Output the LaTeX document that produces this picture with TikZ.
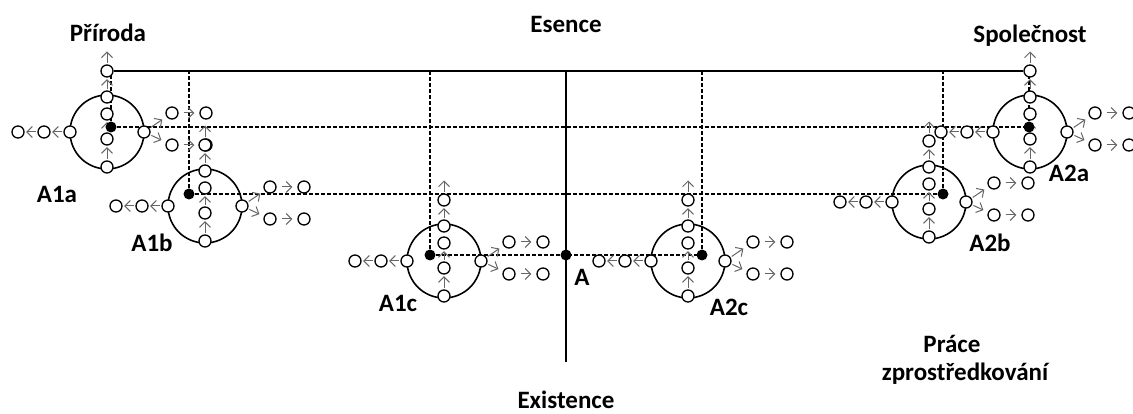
\documentclass[tikz,border=0pt]{standalone}
\usepackage{fontspec}
\setmainfont{Carlito}
\usetikzlibrary{arrows.meta}

\begin{document}
\begin{tikzpicture}[x=1pt,y=-1pt,
  lbl/.style={font=\fontsize{25}{28}\selectfont\bfseries,inner sep=0pt,anchor=base},
  sc/.style={circle,draw,fill=white,line width=1.3pt,inner sep=0pt,minimum size=12pt},
  bc/.style={circle,draw,line width=1.6pt,inner sep=0pt,minimum size=74pt},
  dt/.style={circle,fill,inner sep=0pt,minimum size=11pt},
  dsh/.style={line width=1.3pt,dash pattern=on 4pt off 2pt},
  ar/.style={black!60,line width=1pt,-{Straight Barb[length=5.5pt,width=11pt]},shorten <=1.5pt,shorten >=1.5pt}]
 \useasboundingbox (0,0) rectangle (1133,414);
 \coordinate (c1a) at (111,127);
 \coordinate (c1b) at (189,194);
 \coordinate (c1c) at (430,255);
 \coordinate (c2c) at (702,255);
 \coordinate (c2b) at (943,194);
 \coordinate (c2a) at (1029,127);
 \coordinate (es) at (566,71);
 \coordinate (ex) at (566,362);
 \draw[line width=1.6pt] (es) -- (ex);
 \foreach \d in {c1a,c1b,c1c,c2c,c2b,c2a}
   \draw[dsh] (\d) -- (\d |- es);
 \foreach \a/\b in {c1a/c2a,c1b/c2b,c1c/c2c}
   \draw[dsh] (\a) -- (\b);
 \foreach \n/\cx/\cy in {A1a/107/132,A1b/205/206,A1c/444/261,A2c/688/261,A2b/929/202,A2a/1030/132}{
   \node[bc] (\n) at (\cx,\cy) {};
   \node[sc] (\n-t) at (\cx,\cy-35) {};
   \node[sc] (\n-i) at (\cx,\cy-18) {};
   \node[sc] (\n-j) at (\cx,\cy+7) {};
   \node[sc] (\n-b) at (\cx,\cy+35) {};
   \node[sc] (\n-o) at (\cx,\cy-61) {};
   \coordinate (\n-u) at (\cx,\cy-82);
   \node[sc] (\n-l) at (\cx-37,\cy) {};
   \node[sc] (\n-m) at (\cx-63,\cy) {};
   \node[sc] (\n-f) at (\cx-89,\cy) {};
   \node[sc] (\n-r) at (\cx+37,\cy) {};
   \node[sc] (\n-p) at (\cx+65,\cy-19) {};
   \node[sc] (\n-q) at (\cx+65,\cy+13) {};
   \node[sc] (\n-pp) at (\cx+99,\cy-19) {};
   \node[sc] (\n-qq) at (\cx+99,\cy+13) {};
   \foreach \a/\b in {b/j,j/i,t/o,o/u,l/m,m/f}
     \draw[ar] (\n-\a) -- (\n-\b);
   \foreach \a/\b in {r/p,r/q}
     \draw[ar,shorten >=5pt] (\n-\a) -- (\n-\b);
   \foreach \a/\b in {p/pp,q/qq}
     \draw[ar,shorten <=5pt,shorten >=5pt] (\n-\a) -- (\n-\b);
 }
 \draw[line width=2.5pt] (A1a-o) -- (A2a-o);
 \foreach \d in {1a,1b,1c,2c,2b,2a}
   \node[dt] (d\d) at (c\d) {};
 \node[dt] (A) at (566,255) {};
 \node[lbl] (pri) at (108,42) {Příroda};
 \node[lbl] (ese) at (566,33) {Esence};
 \node[lbl] (spo) at (1030,43) {Společnost};
 \node[lbl] (exi) at (566,408) {Existence};
 \node[lbl] (pr1) at (952,352) {Práce};
 \node[lbl] (pr2) at (965,380) {zprostředkování};
 \node[lbl] (la1a) at (57,203) {A1a};
 \node[lbl] (la1b) at (152,252) {A1b};
 \node[lbl] (la1c) at (398,312) {A1c};
 \node[lbl] (lA) at (582,285) {A};
 \node[lbl] (la2c) at (729,315) {A2c};
 \node[lbl] (la2b) at (990,252) {A2b};
 \node[lbl] (la2a) at (1069,182) {A2a};
\end{tikzpicture}
\end{document}
